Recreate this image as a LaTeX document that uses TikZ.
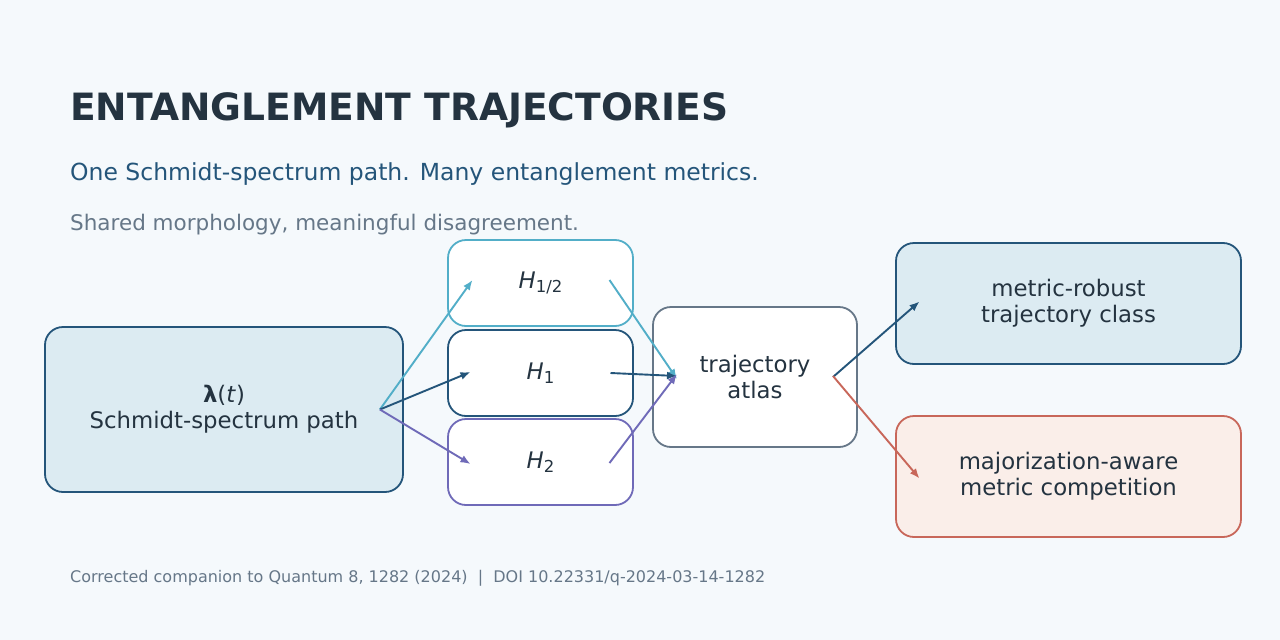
\documentclass[tikz,border=0pt]{standalone}
\usepackage{fontspec}
\setmainfont{DejaVu Sans}
\usetikzlibrary{arrows.meta,positioning,calc}
\definecolor{bg}{HTML}{F5F9FC}
\definecolor{ink}{HTML}{243340}
\definecolor{navy}{HTML}{24557A}
\definecolor{cyanb}{HTML}{52AEC8}
\definecolor{purp}{HTML}{6F6AB8}
\definecolor{grayb}{HTML}{667788}
\definecolor{redb}{HTML}{C8675A}
\definecolor{lblue}{HTML}{DCEBF2}
\definecolor{lred}{HTML}{FAEEE9}
\newcommand{\fs}[2]{\fontsize{#1}{#2}\selectfont}
\tikzset{
  x=1pt,y=-1pt,
  box/.style={draw, line width=1.8pt, rounded corners=18pt, align=center, text=ink, font=\fs{22.8}{26}, inner sep=0pt},
  arr/.style={line width=1.9pt, -{Latex[length=10pt,width=8pt]}},
}
\begin{document}
\begin{tikzpicture}
\fill[bg] (0,0) rectangle (1280,640);
\useasboundingbox (0,0) rectangle (1280,640);

\node[anchor=base west, text=ink, font=\fs{37.6}{44}\bfseries, inner sep=0pt] (title) at (70,120) {ENTANGLEMENT TRAJECTORIES};
\node[anchor=base west, text=navy, font=\fs{23.5}{28}, inner sep=0pt] (sub) at (70,180) {One Schmidt-spectrum path. Many entanglement metrics.};
\node[anchor=base west, text=grayb, font=\fs{21.5}{25}, inner sep=0pt] (tag) at (70,230) {Shared morphology, meaningful disagreement.};
\node[anchor=base west, text=grayb, font=\fs{16}{19}, inner sep=0pt] (foot) at (70,582) {Corrected companion to Quantum 8, 1282 (2024) \ | \ DOI 10.22331/q-2024-03-14-1282};

\node[box, draw=navy, fill=lblue, minimum width=358pt, minimum height=165pt] (src) at (224,409.5)
  {\textbf{λ}(\textit{t})\\Schmidt-spectrum path};
\node[box, draw=cyanb, fill=white, minimum width=185pt, minimum height=86pt] (hh) at (540.5,283)
  {\textit{H}\raisebox{-0.35ex}{\fs{16.5}{18}1/2}};
\node[box, draw=navy, fill=white, minimum width=185pt, minimum height=86pt] (ho) at (540.5,373)
  {\textit{H}\raisebox{-0.35ex}{\fs{16.5}{18}1}};
\node[box, draw=purp, fill=white, minimum width=185pt, minimum height=86pt] (ht) at (540.5,462)
  {\textit{H}\raisebox{-0.35ex}{\fs{16.5}{18}2}};
\node[box, draw=grayb, fill=white, minimum width=204pt, minimum height=140pt] (atlas) at (755,377)
  {trajectory\\atlas};
\node[box, draw=navy, fill=lblue, minimum width=345pt, minimum height=121pt] (rob) at (1068.5,303.5)
  {metric-robust\\trajectory class};
\node[box, draw=redb, fill=lred, minimum width=345pt, minimum height=121pt] (maj) at (1068.5,476.5)
  {majorization-aware\\metric competition};

\coordinate (s0) at ([xshift=-24pt]src.east);
\draw[arr, cyanb] (s0) -- ([xshift=-68pt,yshift=3pt]hh.center);
\draw[arr, navy] (s0) -- ([xshift=-70pt,yshift=1pt]ho.center);
\draw[arr, purp] (s0) -- ([xshift=-70pt,yshift=-2pt]ht.center);

\draw[arr, cyanb] ([xshift=69pt,yshift=3pt]hh.center) -- ([xshift=-78pt,yshift=-2pt]atlas.center);
\draw[arr, navy] ([xshift=70pt]ho.center) -- ([xshift=-78pt,yshift=1pt]atlas.center);
\draw[arr, purp] ([xshift=69pt,yshift=-1pt]ht.center) -- ([xshift=-78pt,yshift=3pt]atlas.center);

\draw[arr, navy] ([xshift=78pt]atlas.center) -- ([xshift=-149pt,yshift=2pt]rob.center);
\draw[arr, redb] ([xshift=78pt,yshift=1pt]atlas.center) -- ([xshift=-149pt,yshift=-2pt]maj.center);
\end{tikzpicture}
\end{document}
